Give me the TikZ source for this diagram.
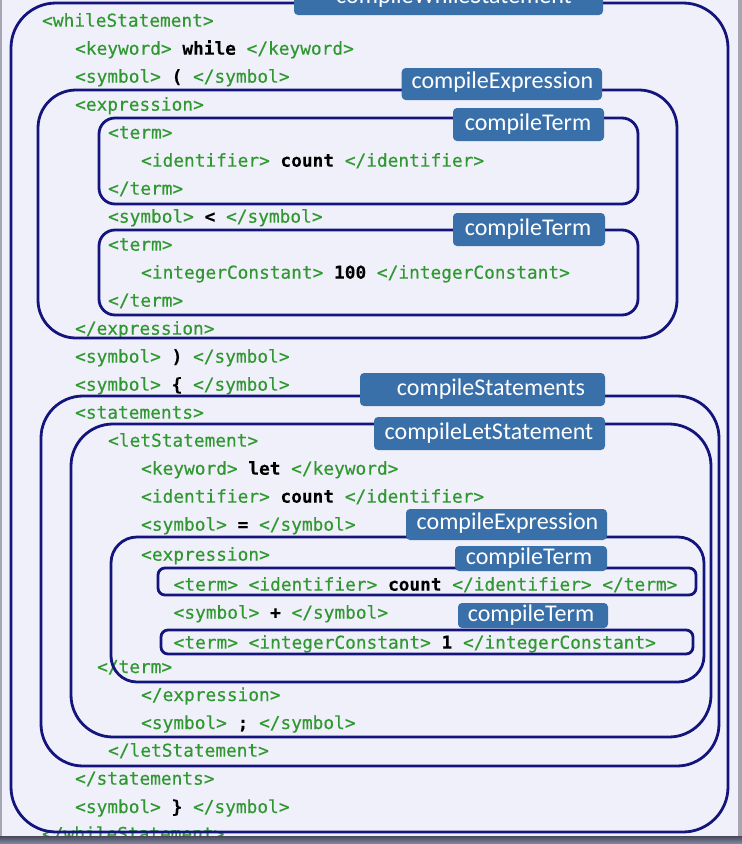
\documentclass[tikz,border=0pt]{standalone}
\usepackage{fontspec}
\setmainfont{Carlito}
\newfontfamily\codefont[FakeBold=0.35, BoldFeatures={FakeBold=0.1}]{DejaVu Sans Mono}
\newfontfamily\labelfont{Carlito}
\definecolor{bgc}{RGB}{240,240,250}
\definecolor{tagc}{RGB}{48,152,48}
\definecolor{navyc}{RGB}{20,20,125}
\definecolor{lblc}{RGB}{58,112,170}
\definecolor{bandtop}{RGB}{70,72,90}
\definecolor{bandbot}{RGB}{135,140,165}
\definecolor{edgec}{RGB}{165,165,180}
\newcommand\vl[1]{\textcolor{black}{\bfseries #1}}
\begin{document}
\begin{tikzpicture}[x=1pt,y=-1pt,
  code/.style={anchor=base west, inner sep=0pt, text=tagc, font=\fontsize{17.8}{20}\selectfont\codefont},
  frame/.style={draw=navyc, line width=2.8pt},
  lbl/.style={fill=lblc, rounded corners=4pt},
  lbltext/.style={anchor=base, inner sep=0pt, text=white, font=\fontsize{24}{27}\selectfont\labelfont},
]
\useasboundingbox (0,0) rectangle (742,844);
\clip (0,0) rectangle (742,844);
\fill[bgc] (0,0) rectangle (742,844);

% code lines
\node[code] (c0)  at (42,26.7)   {<whileStatement>};
\node[code] (c1)  at (75,54.7)   {<keyword> \vl{while} </keyword>};
\node[code] (c2)  at (75,82.7)   {<symbol> \vl{(} </symbol>};
\node[code] (c3)  at (75,110.7)  {<expression>};
\node[code] (c4)  at (108,138.7) {<term>};
\node[code] (c5)  at (141,166.7) {<identifier> \vl{count} </identifier>};
\node[code] (c6)  at (108,194.7) {</term>};
\node[code] (c7)  at (108,222.7) {<symbol> \vl{<} </symbol>};
\node[code] (c8)  at (108,250.7) {<term>};
\node[code] (c9)  at (141,278.7) {<integerConstant> \vl{100} </integerConstant>};
\node[code] (c10) at (108,306.7) {</term>};
\node[code] (c11) at (75,334.7)  {</expression>};
\node[code] (c12) at (75,362.7)  {<symbol> \vl{)} </symbol>};
\node[code] (c13) at (75,390.7)  {<symbol> \vl{\{} </symbol>};
\node[code] (c14) at (75,418.7)  {<statements>};
\node[code] (c15) at (108,446.7) {<letStatement>};
\node[code] (c16) at (141,474.7) {<keyword> \vl{let} </keyword>};
\node[code] (c17) at (141,502.7) {<identifier> \vl{count} </identifier>};
\node[code] (c18) at (141,530.7) {<symbol> \vl{=} </symbol>};
\node[code] (c19) at (141,560.7) {<expression>};
\node[code] (c20) at (173.5,590.7) {<term> <identifier> \vl{count} </identifier> </term>};
\node[code] (c21) at (173.5,618.7) {<symbol> \vl{+} </symbol>};
\node[code] (c22) at (173.5,648.7) {<term> <integerConstant> \vl{1} </integerConstant>};
\node[code] (c23) at (97,673)    {</term>};
\node[code] (c24) at (141,701)   {</expression>};
\node[code] (c25) at (141,729)   {<symbol> \vl{;} </symbol>};
\node[code] (c26) at (108,756.7) {</letStatement>};
\node[code] (c27) at (75,784.7)  {</statements>};
\node[code] (c28) at (75,813)    {<symbol> \vl{\}} </symbol>};
\node[code] (c29) at (42,840)    {</whileStatement>};

% frames
\draw[frame, rounded corners=45pt] (11,3) rectangle (728,832);
\draw[frame, rounded corners=38pt] (38,90) rectangle (677,338);
\draw[frame, rounded corners=16pt] (99,118) rectangle (638,204);
\draw[frame, rounded corners=16pt] (99,230) rectangle (638,315);
\draw[frame, rounded corners=42pt] (41,396) rectangle (719,766);
\draw[frame, rounded corners=42pt] (71,424) rectangle (711,737);
\draw[frame, rounded corners=26pt] (111,537) rectangle (704,682);
\draw[frame, rounded corners=7pt] (158,568) rectangle (696,595);
\draw[frame, rounded corners=7pt] (161,630) rectangle (693,654);

% labels
\fill[lbl] (294,-17) rectangle (603,15);
\node[lbltext] (lw) at (454,3) {compileWhileStatement};
\fill[lbl] (401.7,68) rectangle (602,100);
\node[lbltext] (le1) at (502.4,88) {compileExpression};
\fill[lbl] (453,108) rectangle (604,141);
\node[lbltext] (lt1) at (528,130) {compileTerm};
\fill[lbl] (453,213) rectangle (605,246);
\node[lbltext] (lt2) at (528,235) {compileTerm};
\fill[lbl] (360,373) rectangle (605,406);
\node[lbltext] (ls) at (491,395) {compileStatements};
\fill[lbl] (374,417) rectangle (605,450);
\node[lbltext] (ll) at (489,439) {compileLetStatement};
\fill[lbl] (406,509) rectangle (607,540);
\node[lbltext] (le2) at (507.5,529) {compileExpression};
\fill[lbl] (455,546) rectangle (607,571);
\node[lbltext] (lt3) at (529,564) {compileTerm};
\fill[lbl] (458,603) rectangle (608,628);
\node[lbltext] (lt4) at (531,621) {compileTerm};

% page edges
\fill[edgec] (0,0) rectangle (2,844);
\fill[edgec] (738,0) rectangle (742,844);
\shade[top color=bandtop, bottom color=bandbot] (0,836) rectangle (742,844);
\end{tikzpicture}
\end{document}
